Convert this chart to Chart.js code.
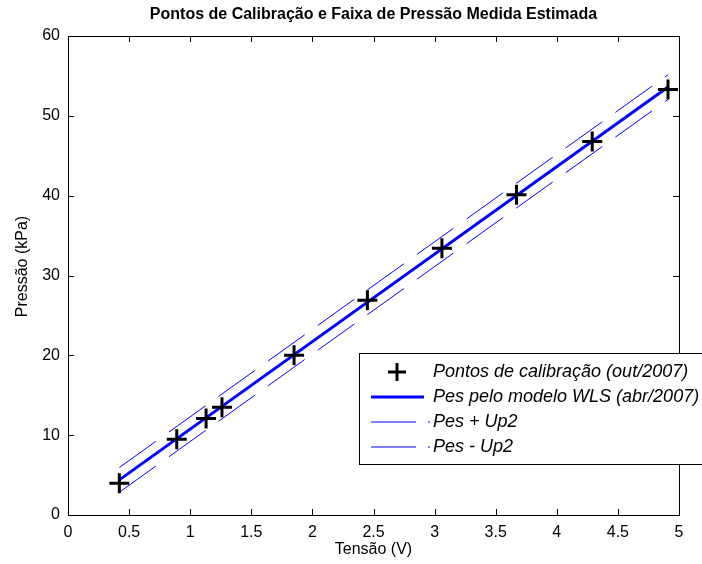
<!DOCTYPE html>
<html>
<head>
<meta charset="utf-8">
<script src="https://cdn.jsdelivr.net/npm/chart.js@4.4.1/dist/chart.umd.min.js"></script>
<style>
  body { margin: 0; background: #fff; }
  #wrap { width: 702px; height: 564px; }
</style>
</head>
<body>
<div id="wrap"><canvas id="grafico" width="702" height="564"></canvas></div>
<script>
// pontos de calibração (out/2007)
const tensao = [0.42, 0.89, 1.13, 1.26, 1.85, 2.45, 3.06, 3.67, 4.29, 4.91];
const pressao = [3.97, 9.5, 12.1, 13.5, 20.0, 26.9, 33.4, 40.1, 46.8, 53.3];

// modelo WLS (abr/2007) e faixa +/- Up2
const pesX = [0.42, 4.91];
const pesY = [4.4, 53.6];
const pesMaisUp2 = [5.95, 55.15];
const pesMenosUp2 = [2.85, 52.05];

const xTicks = [0, 0.5, 1, 1.5, 2, 2.5, 3, 3.5, 4, 4.5, 5];
const yTicks = [0, 10, 20, 30, 40, 50, 60];

const titulo = "Pontos de Calibração e Faixa de Pressão Medida Estimada";
const tituloX = "Tensão (V)";
const tituloY = "Pressão (kPa)";

const FONTE = "'Liberation Sans', Arial, sans-serif";
const AZUL = "#0000ff";

function pares(xs, ys) {
    return xs.map((x, i) => ({ x: x, y: ys[i] }));
}

// =============================
// MOLDURA, TICKS E LEGENDA
// =============================

const molduraMatlab = {
    id: "molduraMatlab",
    afterDraw(chart) {
        const ctx = chart.ctx;
        const a = chart.chartArea;
        const sx = chart.scales.x;
        const sy = chart.scales.y;
        const L = 6;

        ctx.save();
        ctx.strokeStyle = "#000";
        ctx.lineWidth = 1;
        ctx.beginPath();
        xTicks.forEach(v => {
            const px = Math.round(sx.getPixelForValue(v)) + 0.5;
            ctx.moveTo(px, a.bottom); ctx.lineTo(px, a.bottom - L);
            ctx.moveTo(px, a.top); ctx.lineTo(px, a.top + L);
        });
        yTicks.forEach(v => {
            const py = Math.round(sy.getPixelForValue(v)) + 0.5;
            ctx.moveTo(a.left, py); ctx.lineTo(a.left + L, py);
            ctx.moveTo(a.right, py); ctx.lineTo(a.right - L, py);
        });
        ctx.stroke();
        ctx.strokeRect(Math.round(a.left) + 0.5, Math.round(a.top) + 0.5,
            Math.round(a.right - a.left), Math.round(a.bottom - a.top));

        // títulos
        ctx.fillStyle = "#000";
        ctx.textAlign = "center";
        ctx.textBaseline = "middle";
        ctx.font = "bold 16px " + FONTE;
        ctx.fillText(titulo, (a.left + a.right) / 2, 15);
        ctx.font = "16px " + FONTE;
        ctx.fillText(tituloX, (a.left + a.right) / 2, 550);
        ctx.save();
        ctx.translate(23, (a.top + a.bottom) / 2 - 9);
        ctx.rotate(-Math.PI / 2);
        ctx.font = "16px " + FONTE;
        ctx.fillText(tituloY, 0, 0);
        ctx.restore();

        // legenda
        const bx = 359, by = 353, bw = 360, bh = 111;
        ctx.fillStyle = "#fff";
        ctx.fillRect(bx, by, bw, bh);
        ctx.strokeStyle = "#000";
        ctx.strokeRect(bx + 0.5, by + 0.5, bw, bh);

        const linhasY = [372, 397, 422, 447];
        chart.data.datasets.forEach((ds, i) => {
            const y = linhasY[i];
            ctx.save();
            if (ds.showLine === false) {
                ctx.strokeStyle = ds.borderColor;
                ctx.lineWidth = 3;
                ctx.beginPath();
                ctx.moveTo(388, y); ctx.lineTo(406, y);
                ctx.moveTo(397, y - 9); ctx.lineTo(397, y + 9);
                ctx.stroke();
            } else {
                ctx.strokeStyle = ds.borderColor;
                ctx.lineWidth = ds.borderWidth;
                ctx.setLineDash(ds.borderDash ? [45, 12] : []);
                ctx.beginPath();
                ctx.moveTo(371, y); ctx.lineTo(ds.borderDash ? 430 : 424, y);
                ctx.stroke();
            }
            ctx.restore();
            ctx.fillStyle = "#000";
            ctx.textAlign = "left";
            ctx.textBaseline = "middle";
            ctx.font = "italic 18px " + FONTE;
            ctx.fillText(ds.label, 433, y);
        });
        ctx.restore();
    }
};

// =============================
// GRÁFICO
// =============================

new Chart(document.getElementById("grafico"), {
    type: "scatter",
    data: {
        datasets: [{
            label: "Pontos de calibração (out/2007)",
            data: pares(tensao, pressao),
            showLine: false,
            pointStyle: "cross",
            pointRadius: 10,
            borderWidth: 3,
            borderColor: "#000",
            backgroundColor: "#000"
        }, {
            label: "Pes pelo modelo WLS (abr/2007)",
            data: pares(pesX, pesY),
            showLine: true,
            pointRadius: 0,
            borderWidth: 3,
            borderColor: AZUL
        }, {
            label: "Pes + Up2",
            data: pares(pesX, pesMaisUp2),
            showLine: true,
            pointRadius: 0,
            borderWidth: 1,
            borderDash: [45, 16],
            borderColor: AZUL
        }, {
            label: "Pes - Up2",
            data: pares(pesX, pesMenosUp2),
            showLine: true,
            pointRadius: 0,
            borderWidth: 1,
            borderDash: [45, 16],
            borderColor: AZUL
        }]
    },
    options: {
        responsive: false,
        animation: false,
        layout: { padding: { top: 36, right: 23, left: 0, bottom: 0 } },
        plugins: {
            legend: { display: false },
            tooltip: { enabled: false }
        },
        scales: {
            x: {
                type: "linear",
                min: 0,
                max: 5,
                afterBuildTicks: s => { s.ticks = xTicks.map(v => ({ value: v })); },
                afterFit: s => { s.height = 49; },
                grid: { display: false, drawTicks: false },
                border: { display: false },
                ticks: {
                    padding: 8,
                    color: "#000",
                    font: { family: FONTE, size: 16 },
                    callback: v => String(v)
                }
            },
            y: {
                type: "linear",
                min: 0,
                max: 60,
                afterBuildTicks: s => { s.ticks = yTicks.map(v => ({ value: v })); },
                afterFit: s => { s.width = 68; },
                grid: { display: false, drawTicks: false },
                border: { display: false },
                ticks: {
                    padding: 8,
                    color: "#000",
                    font: { family: FONTE, size: 16 },
                    callback: v => String(v)
                }
            }
        }
    },
    plugins: [molduraMatlab]
});
</script>
</body>
</html>
